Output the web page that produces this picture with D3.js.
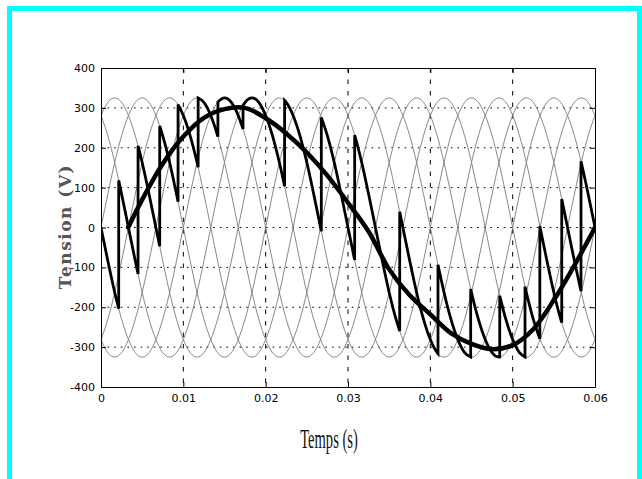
<!DOCTYPE html>
<html>
<head>
<meta charset="utf-8">
<script src="https://cdn.jsdelivr.net/npm/d3@7"></script>
<style>
  html, body { margin: 0; padding: 0; background: #fff; }
  svg { display: block; }
</style>
</head>
<body>
<svg id="chart" width="642" height="479"></svg>
<script>
// Six-phase 50 Hz supply: one period of the phase voltage, sampled every 15 degrees
const supplyPeriod = 0.02;
const supplyWave = [0, 84, 163, 230, 281, 314, 325, 314, 281, 230, 163, 84,
                    0, -84, -163, -230, -281, -314, -325, -314, -281, -230, -163, -84];
// lag of each phase, in 15-degree steps (60 degrees apart)
const phaseLagSteps = [0, 4, 8, 12, 16, 20];

// Cycloconverter output: switching instants (s) and the phase followed in between
const switchTimes = [0, 0.00215, 0.0045, 0.00713, 0.00936, 0.0118, 0.0142, 0.01725,
                     0.0223, 0.02676, 0.03081, 0.03628, 0.04093, 0.0449, 0.04843,
                     0.0515, 0.0533, 0.05596, 0.0583, 0.06];
const switchPhases = [3, 4, 5, 0, 1, 2, 3, 4, 5, 0, 1, 2, 3, 4, 5, 0, 1, 2, 3];

// Wanted (fundamental) output voltage
const refTime = [0.0033, 0.005, 0.0075, 0.01, 0.0125, 0.015, 0.0175, 0.02, 0.0225,
                 0.025, 0.0275, 0.03, 0.0325, 0.035, 0.0375, 0.04, 0.0425, 0.045,
                 0.0475, 0.05, 0.0525, 0.055, 0.0575, 0.06];
const refVolt = [0, 70, 160, 228, 275, 297, 300, 274, 236, 188, 130, 62, -10, -105,
                 -170, -218, -265, -292, -305, -295, -255, -182, -95, 0];

const xTicks = [0, 0.01, 0.02, 0.03, 0.04, 0.05, 0.06];
const yTicks = [-400, -300, -200, -100, 0, 100, 200, 300, 400];
const xTitle = "Temps (s)";
const yTitle = "Tension (V)";

const svg = d3.select("#chart");

// outer cyan frame
svg.append("rect")
  .attr("x", 9.5).attr("y", 8.5)
  .attr("width", 630).attr("height", 520)
  .attr("fill", "#fff")
  .attr("stroke", "#00ffff")
  .attr("stroke-width", 5);

const x = d3.scaleLinear().domain([0, 0.06]).range([101, 595]);
const y = d3.scaleLinear().domain([-400, 400]).range([387, 68]);

// clip region for curves
svg.append("clipPath").attr("id", "plotClip")
  .append("rect")
  .attr("x", x(0)).attr("y", y(400))
  .attr("width", x(0.06) - x(0)).attr("height", y(-400) - y(400));

// dotted grid
const grid = svg.append("g");
grid.selectAll("line.h")
  .data(yTicks.filter(v => v > -400 && v < 400))
  .join("line")
  .attr("x1", x(0)).attr("x2", x(0.06))
  .attr("y1", d => y(d)).attr("y2", d => y(d))
  .attr("stroke", "#000").attr("stroke-width", 1)
  .attr("stroke-dasharray", "1.6,5");
grid.selectAll("line.v")
  .data(xTicks.filter(v => v > 0 && v < 0.06))
  .join("line")
  .attr("y1", y(400)).attr("y2", y(-400))
  .attr("x1", d => x(d)).attr("x2", d => x(d))
  .attr("stroke", "#000").attr("stroke-width", 1)
  .attr("stroke-dasharray", "4.5,7");

// supply sample of phase k at grid index i
const stepsPerPeriod = supplyWave.length;
const sample = (k, i) => supplyWave[(((i - phaseLagSteps[k]) % stepsPerPeriod) + stepsPerPeriod) % stepsPerPeriod];
const gridTime = i => i * supplyPeriod / stepsPerPeriod;
const lastIndex = Math.round(0.06 / supplyPeriod * stepsPerPeriod);

// value of phase k between samples (Catmull-Rom through the samples)
function phaseValue(k, t) {
  const u = t / supplyPeriod * stepsPerPeriod;
  const i = Math.floor(u), f = u - i;
  const p0 = sample(k, i - 1), p1 = sample(k, i), p2 = sample(k, i + 1), p3 = sample(k, i + 2);
  return 0.5 * (2 * p1 + (-p0 + p2) * f + (2 * p0 - 5 * p1 + 4 * p2 - p3) * f * f +
                (-p0 + 3 * p1 - 3 * p2 + p3) * f * f * f);
}

const curve = d3.line().x(d => x(d[0])).y(d => y(d[1])).curve(d3.curveMonotoneX);
const plot = svg.append("g").attr("clip-path", "url(#plotClip)");

// six supply phases
plot.selectAll("path.phase")
  .data(phaseLagSteps.map((_, k) => d3.range(lastIndex + 1).map(i => [gridTime(i), sample(k, i)])))
  .join("path")
  .attr("d", curve)
  .attr("fill", "none")
  .attr("stroke", "#7a7a7a")
  .attr("stroke-width", 0.9);

// converter output: pieces of the phase voltages joined by vertical jumps
let outPath = "";
switchPhases.forEach((k, s) => {
  const t0 = switchTimes[s], t1 = switchTimes[s + 1];
  const pts = [[t0, phaseValue(k, t0)]];
  for (let i = 0; i <= lastIndex; i++) {
    const t = gridTime(i);
    if (t > t0 + 1e-6 && t < t1 - 1e-6) pts.push([t, sample(k, i)]);
  }
  pts.push([t1, phaseValue(k, t1)]);
  const d = curve(pts);
  outPath += s === 0 ? d : "L" + d.slice(1);
});
plot.append("path")
  .attr("d", outPath)
  .attr("fill", "none")
  .attr("stroke", "#000")
  .attr("stroke-width", 2.8)
  .attr("stroke-linejoin", "miter")
  .attr("stroke-miterlimit", 3);

// wanted output voltage
plot.append("path")
  .datum(refTime.map((t, i) => [t, refVolt[i]]))
  .attr("d", d3.line().x(d => x(d[0])).y(d => y(d[1])).curve(d3.curveCatmullRom))
  .attr("fill", "none")
  .attr("stroke", "#000")
  .attr("stroke-width", 4.5)
  .attr("stroke-linecap", "round");

// axes box with inward ticks
const fmt = d => String(d);
const axisFont = g => g.selectAll("text")
  .attr("font-family", "DejaVu Sans")
  .attr("font-size", 11)
  .attr("fill", "#000");
const axisStyle = g => {
  g.select(".domain").attr("stroke", "#000");
  g.selectAll(".tick line").attr("stroke", "#000");
};

svg.append("g").attr("transform", `translate(${x(0)},0)`)
  .call(d3.axisLeft(y).tickValues(yTicks).tickFormat(fmt).tickSize(-5).tickSizeOuter(0).tickPadding(6))
  .call(axisFont).call(axisStyle);
svg.append("g").attr("transform", `translate(0,${y(-400)})`)
  .call(d3.axisBottom(x).tickValues(xTicks).tickFormat(fmt).tickSize(-5).tickSizeOuter(0).tickPadding(7))
  .call(axisFont).call(axisStyle);
svg.append("g").attr("transform", `translate(${x(0.06)},0)`)
  .call(d3.axisRight(y).tickValues(yTicks).tickFormat("").tickSize(-5).tickSizeOuter(0))
  .call(axisStyle);
svg.append("g").attr("transform", `translate(0,${y(400)})`)
  .call(d3.axisTop(x).tickValues(xTicks).tickFormat("").tickSize(-5).tickSizeOuter(0))
  .call(axisStyle);

// axis titles
svg.append("text")
  .attr("transform", `translate(65,${y(0) - 1}) rotate(-90)`)
  .attr("text-anchor", "middle")
  .attr("dominant-baseline", "central")
  .attr("font-family", "DejaVu Serif")
  .attr("font-weight", "bold")
  .attr("font-size", 17)
  .attr("letter-spacing", 1.5)
  .attr("fill", "#555")
  .text(yTitle);

svg.append("text")
  .attr("transform", "translate(329,448) scale(0.52,1)")
  .attr("text-anchor", "middle")
  .attr("font-family", "Liberation Serif")
  .attr("font-size", 28)
  .attr("fill", "#111")
  .text(xTitle);
</script>
</body>
</html>
